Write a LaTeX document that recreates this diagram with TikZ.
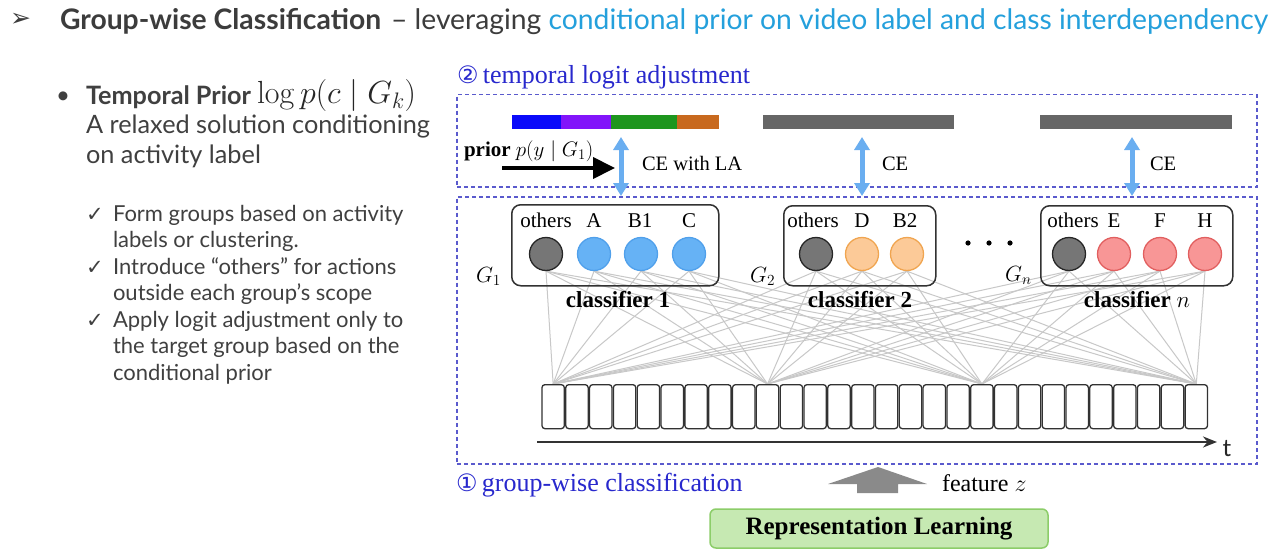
\documentclass[tikz,border=0pt]{standalone}
\usepackage{fix-cm}
\usepackage{graphicx}
\usepackage[no-math]{fontspec}
\setmainfont{Lato}
\newfontfamily\serifface{Liberation Serif}
\newfontfamily\symface{DejaVu Sans}
\usetikzlibrary{arrows.meta}
\pgfdeclarelayer{background}
\pgfsetlayers{background,main}
\definecolor{titlegray}{RGB}{60,60,60}
\definecolor{titleblue}{RGB}{36,160,220}
\definecolor{bodygray}{RGB}{64,64,64}
\definecolor{diagblue}{RGB}{40,40,205}
\definecolor{dashcol}{RGB}{90,90,205}
\definecolor{barblue}{RGB}{10,10,250}
\definecolor{barpurple}{RGB}{130,20,250}
\definecolor{bargreen}{RGB}{30,150,30}
\definecolor{barorange}{RGB}{200,105,30}
\definecolor{bargray}{RGB}{102,102,102}
\definecolor{arrowblue}{RGB}{106,174,240}
\definecolor{othersfill}{RGB}{118,118,118}
\definecolor{bluefill}{RGB}{102,178,245}
\definecolor{blueedge}{RGB}{80,160,235}
\definecolor{orangefill}{RGB}{252,202,152}
\definecolor{orangeedge}{RGB}{240,165,80}
\definecolor{pinkfill}{RGB}{248,150,150}
\definecolor{pinkedge}{RGB}{225,95,95}
\definecolor{linegray}{RGB}{200,200,200}
\definecolor{greenfill}{RGB}{198,233,178}
\definecolor{greenedge}{RGB}{140,205,105}
\definecolor{blockgray}{RGB}{138,138,138}
\definecolor{cellgray}{RGB}{50,50,50}
\begin{document}
\begin{tikzpicture}[x=1pt,y=-1pt,
  txt/.style={inner sep=0pt, outer sep=0pt},
  bodytxt/.style={txt, anchor=base west, text=bodygray, font=\fontsize{25.3}{28}\selectfont},
  checktxt/.style={txt, anchor=base west, text=bodygray, font=\fontsize{22}{24}\selectfont},
  checkmk/.style={txt, anchor=base west, text=bodygray, font=\symface\fontsize{21}{22}\selectfont},
  seriftxt/.style={txt, text=black, font=\serifface\fontsize{20.5}{24}\selectfont},
  bluelabel/.style={txt, anchor=base west, text=diagblue, font=\serifface\fontsize{26}{28}\selectfont},
  dashbox/.style={draw=dashcol, line width=1.5pt, dash pattern=on 4pt off 3pt, inner sep=0pt, anchor=north west},
  barseg/.style={inner sep=0pt, anchor=north west, minimum height=14pt},
  dblarrow/.style={draw=arrowblue, line width=5pt, {Triangle[length=13pt,width=15pt]}-{Triangle[length=13pt,width=15pt]}},
  clsbox/.style={draw=cellgray, line width=1.5pt, rounded corners=9pt, inner sep=0pt, anchor=north west},
  unit/.style={circle, inner sep=0pt, minimum size=33pt, line width=1.3pt},
  othersunit/.style={unit, fill=othersfill, draw=black!85},
  blueunit/.style={unit, fill=bluefill, draw=blueedge},
  orangeunit/.style={unit, fill=orangefill, draw=orangeedge},
  pinkunit/.style={unit, fill=pinkfill, draw=pinkedge},
  unitlabel/.style={seriftxt, anchor=base, font=\serifface\fontsize{21}{24}\selectfont},
  clslabel/.style={txt, anchor=base, font=\serifface\bfseries\fontsize{23}{26}\selectfont},
  cell/.style={draw=cellgray, line width=1.3pt, rounded corners=3pt, inner sep=0pt, anchor=north west, minimum width=22.4pt, minimum height=44pt},
  conn/.style={draw=linegray, line width=1pt},
  glabel/.style={txt, anchor=base west, font=\fontsize{22}{24}\selectfont}
]
\begin{pgfonlayer}{background}
\fill[white] (0,0) rectangle (1287,559);
\end{pgfonlayer}
\useasboundingbox (0,0) rectangle (1287,559);

% ---------- title ----------
\node[txt, anchor=west, text=titlegray, font=\symface\fontsize{25}{25}\selectfont] (mark) at (10,20) {➢};
\node[txt, anchor=base west, text=titlegray, font=\fontsize{28.3}{32}\selectfont] (title) at (60,30)
  {\textbf{Group-wise Classification}\hspace{10pt}– leveraging \textcolor{titleblue}{conditional prior on video label and class interdependency}};

% ---------- left text ----------
\node[bodytxt, font=\fontsize{24}{28}\selectfont] (bullet) at (56,104) {•};
\node[bodytxt] (tp) at (86,104) {\resizebox{165pt}{\height}{\textbf{Temporal Prior}}};
\node[txt, anchor=base west, text=black!85, font=\fontsize{32}{34}\selectfont] (tpm) at (257,104) {$\log p(c\mid G_k)$};
\node[bodytxt] (l2) at (86,134) {A relaxed solution conditioning};
\node[bodytxt] (l3) at (86,164) {on activity label};

\node[checkmk] (ck1) at (86,221) {✓};
\node[checktxt] (t1) at (113,221) {Form groups based on activity};
\node[checktxt] (t2) at (113,247.5) {labels or clustering.};
\node[checkmk] (ck2) at (86,274) {✓};
\node[checktxt] (t3) at (113,274) {Introduce “others” for actions};
\node[checktxt] (t4) at (113,300.5) {outside each group’s scope};
\node[checkmk] (ck3) at (86,327) {✓};
\node[checktxt] (t5) at (113,327) {Apply logit adjustment only to};
\node[checktxt] (t6) at (113,353.5) {the target group based on the};
\node[checktxt] (t7) at (113,380) {conditional prior};

% ---------- diagram frames ----------
\node[bluelabel] (lab2) at (457,84) {{\symface\fontsize{24}{24}\selectfont ②}\,temporal logit adjustment};
\node[dashbox, minimum width=800pt, minimum height=92pt] (topbox) at (456,94) {};
\node[dashbox, minimum width=800pt, minimum height=267pt] (botbox) at (456,196) {};

% ---------- bars ----------
\node[barseg, fill=barblue, minimum width=49pt] (b1a) at (512,115) {};
\node[barseg, fill=barpurple, minimum width=50pt] (b1b) at (561,115) {};
\node[barseg, fill=bargreen, minimum width=66pt] (b1c) at (611,115) {};
\node[barseg, fill=barorange, minimum width=42pt] (b1d) at (677,115) {};
\node[barseg, fill=bargray, minimum width=191pt] (bar2) at (763,115) {};
\node[barseg, fill=bargray, minimum width=192pt] (bar3) at (1040,115) {};

% ---------- CE arrows ----------
\coordinate (da1t) at (621,137); \coordinate (da1b) at (621,196);
\coordinate (da2t) at (862,137); \coordinate (da2b) at (862,196);
\coordinate (da3t) at (1132,137); \coordinate (da3b) at (1132,196);
\draw[dblarrow] (da1t) -- (da1b);
\draw[dblarrow] (da2t) -- (da2b);
\draw[dblarrow] (da3t) -- (da3b);
\node[seriftxt, anchor=base west] (ce1) at (642,170) {CE with LA};
\node[seriftxt, anchor=base west] (ce2) at (882,170) {CE};
\node[seriftxt, anchor=base west] (ce3) at (1150,170) {CE};

% ---------- prior ----------
\node[seriftxt, anchor=base west, font=\serifface\fontsize{21}{24}\selectfont] (prior) at (464,156) {\textbf{prior} $p(y\mid G_1)$};
\coordinate (pa0) at (502,168); \coordinate (pa1) at (615,168);
\draw[line width=4pt, -{Triangle[length=22pt,width=21pt]}] (pa0) -- (pa1);

% ---------- classifier boxes ----------
\node[clsbox, minimum width=207pt, minimum height=81pt] (box1) at (511,204) {};
\node[clsbox, minimum width=152pt, minimum height=80pt] (box2) at (783,205) {};
\node[clsbox, minimum width=192pt, minimum height=80pt] (box3) at (1040,205) {};

\node[othersunit] (c11) at (546,254) {};
\node[blueunit] (c12) at (594,254) {};
\node[blueunit] (c13) at (641,254) {};
\node[blueunit] (c14) at (689,254) {};
\node[othersunit] (c21) at (816,254) {};
\node[orangeunit] (c22) at (862,254) {};
\node[orangeunit] (c23) at (907,254) {};
\node[othersunit] (c31) at (1069,254) {};
\node[pinkunit] (c32) at (1114,254) {};
\node[pinkunit] (c33) at (1160,254) {};
\node[pinkunit] (c34) at (1205,254) {};

\node[unitlabel] (o1) at (546,227) {others};
\node[unitlabel] (la) at (594,227) {A};
\node[unitlabel] (lb1) at (640,227) {B1};
\node[unitlabel] (lc) at (689,227) {C};
\node[unitlabel] (o2) at (813,227) {others};
\node[unitlabel] (ld) at (862,227) {D};
\node[unitlabel] (lb2) at (905,227) {B2};
\node[unitlabel] (o3) at (1073,227) {others};
\node[unitlabel] (le) at (1114,227) {E};
\node[unitlabel] (lf) at (1160,227) {F};
\node[unitlabel] (lh) at (1205,227) {H};

\node[glabel] (g1) at (476,282) {$G_1$};
\node[glabel] (g2) at (750,282) {$G_2$};
\node[glabel] (gn) at (1005,281) {$G_n$};

\fill (968,243) circle (2.6pt);
\fill (989,243) circle (2.6pt);
\fill (1010,243) circle (2.6pt);

\node[clslabel] (cl1) at (618,307) {classifier 1};
\node[clslabel] (cl2) at (860,307) {classifier 2};
\node[clslabel] (cl3) at (1137,307) {classifier $n$};

% ---------- feature cells ----------
\foreach \i in {1,...,28} {
  \pgfmathsetmacro{\cx}{541.3+(\i-1)*23.82}
  \node[cell] (cell\i) at (\cx,384) {};
}
\coordinate (hub1) at (cell1.north);
\coordinate (hub2) at (cell10.north);
\coordinate (hub3) at (cell19.north);
\coordinate (hub4) at (cell28.north);

\begin{pgfonlayer}{background}
\foreach \c in {c11,c12,c13,c14,c21,c22,c23,c31,c32,c33,c34} {
  \foreach \h in {hub1,hub2,hub3,hub4} {
    \draw[conn] (\c.south) -- (\h);
  }
}
\end{pgfonlayer}

% ---------- time axis ----------
\coordinate (ta0) at (537,442); \coordinate (ta1) at (1217,442);
\draw[draw=cellgray, line width=2.2pt, -{Stealth[length=14pt,width=11pt]}] (ta0) -- (ta1);
\node[txt, font=\fontsize{24}{24}\selectfont, text=black!85] (tlab) at (1227,449) {t};

% ---------- bottom ----------
\node[bluelabel] (lab1) at (456,491) {{\symface\fontsize{24}{24}\selectfont ①}\,group-wise classification};
\fill[blockgray] (857,493) -- (857,484) -- (828,484) -- (878,467) -- (927,484) -- (898,484) -- (898,493) -- cycle;
\node[seriftxt, anchor=base west, font=\serifface\fontsize{24}{26}\selectfont] (feat) at (942,491) {feature $z$};
\node[draw=greenedge, fill=greenfill, line width=1.5pt, rounded corners=6pt, minimum width=338pt, minimum height=39pt, inner sep=0pt,
      font=\serifface\bfseries\fontsize{25}{28}\selectfont] (rep) at (879,528.5) {Representation Learning};
\end{tikzpicture}
\end{document}
